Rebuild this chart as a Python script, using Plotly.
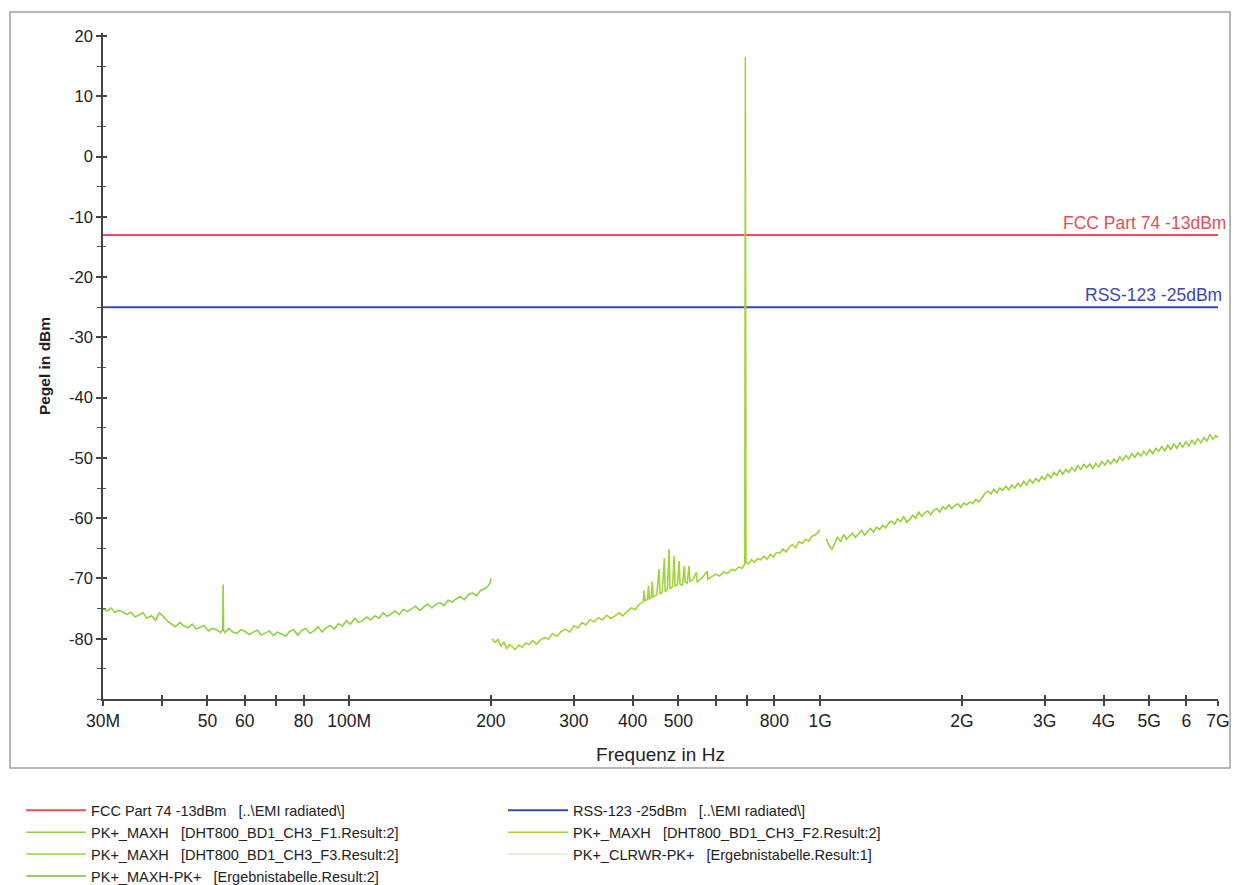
import plotly.graph_objects as go
import math

# ---------------- data (frequency in MHz, level in dBm) ----------------
f1_freq = [30, 30.6, 31.2, 31.8, 32.4, 33.0, 33.7, 34.4, 35.1, 35.8, 36.5, 37.2, 38.0, 38.8,
           39.5, 40.3, 41.1, 42.0, 42.8, 43.7, 44.6, 45.5, 46.4, 47.3, 48.3, 49.2, 50.2, 51.2,
           52.3, 53.3, 53.9, 54.0, 54.1, 54.4, 55.5, 56.6, 57.7, 58.9, 60.1, 61.3, 62.5, 63.8,
           65.0, 66.3, 67.7, 69.0, 70.4, 71.8, 73.3, 74.7, 76.2, 77.8, 79.3, 80.9, 82.5, 84.2,
           85.9, 87.6, 89.3, 91.1, 93.0, 94.8, 96.7, 98.7, 100.6, 102.7, 104.7, 106.8, 109.0,
           111.2, 113.4, 115.7, 118.0, 120.4, 122.8, 125.2, 127.8, 130.3, 132.9, 135.6, 138.3,
           141.1, 143.9, 146.8, 149.8, 152.8, 155.8, 159.0, 162.2, 165.4, 168.7, 172.1, 175.6,
           179.1, 182.7, 186.4, 190.1, 193.9, 197.0, 199.0, 200]
f1_level = [-75.0, -75.4, -74.9, -75.6, -75.3, -75.5, -76.0, -75.6, -76.4, -76.1,
            -75.7, -76.6, -76.2, -76.9, -75.7, -76.3, -77.1, -77.6, -78.0, -77.3,
            -77.9, -78.2, -77.6, -78.4, -78.1, -77.8, -78.7, -78.3, -78.5, -79.0,
            -78.4, -71.0, -78.6, -79.0, -78.3, -78.9, -79.1, -78.5, -78.8, -79.3,
            -78.9, -78.6, -79.4, -79.0, -78.7, -79.5, -78.9, -79.2, -79.6, -78.8,
            -78.5, -79.4, -78.6, -78.3, -79.1, -78.7, -78.0, -78.9, -78.2, -77.8,
            -78.4, -77.5, -77.9, -77.0, -77.6, -76.6, -77.3, -77.0, -76.4, -76.9,
            -76.2, -76.6, -75.7, -76.3, -75.9, -75.4, -76.0, -75.1, -75.5, -75.0,
            -74.6, -75.3, -74.8, -74.2, -74.9, -74.3, -74.0, -74.5, -73.6, -73.9,
            -73.4, -73.0, -73.5, -72.7, -72.4, -72.9, -72.0, -71.7, -71.3, -70.8,
            -70.0]

f2_freq = [201, 204, 207, 210, 213, 216, 219, 222, 225, 229, 233, 237, 241, 245, 250, 255, 260,
           265, 270, 276, 282, 288, 294, 300, 306, 312, 318, 325, 331, 338, 345, 352, 359, 366,
           374, 381, 389, 397, 405, 413,
           418, 421, 423, 425, 430, 432, 434, 438, 440, 442, 450, 455, 457, 462, 467, 469, 474,
           478, 480, 486, 490, 492, 498, 502, 504, 510, 515, 517, 522, 527, 529, 537, 546, 548,
           560, 576, 578, 590, 600, 612, 624, 636, 648, 660, 672, 684, 692, 694, 696, 705, 715,
           726, 737, 748, 760, 772, 784, 796, 808, 821, 834, 847, 860, 874, 888, 902, 916, 931,
           946, 961, 976, 990, 998]
f2_level = [-80.0, -80.6, -80.1, -81.2, -80.6, -81.6, -81.0, -81.3, -81.8, -81.1,
            -81.4, -80.7, -81.0, -80.3, -80.9, -80.2, -79.8, -80.1, -79.2, -79.6,
            -78.8, -78.4, -78.9, -77.8, -78.2, -77.3, -77.7, -76.8, -77.2, -76.5,
            -76.9, -76.1, -76.6, -76.3, -75.7, -76.2, -75.5, -74.9, -75.2, -74.3,
            -74.0, -73.8, -72.0, -73.7, -73.5, -71.2, -73.4, -73.2, -70.5, -73.1,
            -72.7, -68.4, -72.6, -72.3, -66.6, -72.2, -71.8, -65.1, -71.7, -71.4,
            -66.3, -71.3, -71.0, -67.1, -70.9, -71.2, -67.9, -70.6, -70.8, -67.9,
            -70.5, -70.2, -69.0, -70.6, -70.0, -68.8, -70.1, -69.7, -69.3, -69.6,
            -68.9, -69.2, -68.5, -68.7, -68.1, -68.3, -67.6, 16.5, -67.3, -67.6,
            -66.9, -67.3, -66.7, -66.9, -66.3, -66.8, -66.0, -66.4, -65.7, -65.8,
            -65.1, -65.6, -64.8, -64.4, -64.9, -63.9, -64.2, -63.5, -63.8, -63.0,
            -62.8, -62.4, -61.9]

f3_freq = [1030, 1045, 1060, 1075, 1090, 1106, 1122, 1138, 1155, 1172, 1189, 1207, 1225, 1243,
           1261, 1280, 1299, 1318, 1338, 1358, 1378, 1398, 1419, 1440, 1461, 1483, 1505, 1527,
           1550, 1573, 1596, 1620, 1644, 1668, 1693, 1718, 1743, 1769, 1795, 1822, 1849, 1876,
           1904, 1932, 1961, 1990, 2019, 2049, 2079, 2110, 2141, 2173, 2205, 2238, 2271, 2304,
           2338, 2373, 2408, 2443, 2480, 2516, 2554, 2591, 2630, 2669, 2708, 2748, 2789, 2830,
           2872, 2914, 2957, 3001, 3045, 3090, 3136, 3182, 3229, 3277, 3325, 3375, 3425, 3475,
           3527, 3579, 3632, 3685, 3740, 3795, 3851, 3908, 3966, 4025, 4084, 4145, 4206, 4268,
           4331, 4395, 4460, 4526, 4593, 4661, 4730, 4800, 4871, 4943, 5016, 5090, 5165, 5242,
           5319, 5398, 5478, 5559, 5641, 5724, 5809, 5895, 5982, 6071, 6161, 6252, 6344, 6438,
           6533, 6630, 6728, 6827, 6928, 7000]
f3_level = [-63.4, -64.5, -65.2, -64.0, -63.1, -63.9, -62.7, -63.5, -62.9, -62.5, -63.2, -62.6,
            -62.0, -62.8, -62.2, -61.7, -62.3, -61.5, -61.9, -61.2, -61.6, -60.8, -60.5, -61.0,
            -60.1, -60.6, -59.7, -60.7, -60.2, -59.5, -60.0, -59.0, -59.7, -59.1, -58.8, -59.4,
            -58.7, -58.4, -59.0, -58.1, -58.5, -57.8, -58.4, -57.9, -57.6, -58.2, -57.5, -57.8,
            -57.3, -57.6, -56.9, -57.3, -56.7, -55.9, -55.5, -56.0, -55.2, -55.8, -55.0, -55.4,
            -54.7, -55.3, -54.5, -55.0, -54.2, -54.7, -53.9, -54.5, -53.6, -54.2, -53.4, -53.9,
            -53.1, -53.6, -52.7, -53.3, -52.4, -52.9, -52.0, -52.7, -51.9, -52.4, -51.6, -52.2,
            -51.3, -51.9, -51.1, -51.6, -51.0, -51.8, -50.9, -51.5, -50.6, -51.2, -50.4, -51.0,
            -50.2, -50.7, -49.8, -50.4, -49.6, -50.2, -49.3, -49.9, -49.1, -49.7, -48.9, -49.5,
            -48.6, -49.3, -48.4, -48.9, -48.1, -48.8, -47.9, -48.6, -47.7, -48.4, -47.5, -48.2,
            -47.3, -48.0, -47.1, -47.7, -46.8, -47.5, -46.6, -47.2, -46.1, -46.9, -46.3, -46.7]

limit_freq = [30, 7000]
fcc_level = [-13, -13]
rss_level = [-25, -25]

x_tickvals = [30, 40, 50, 60, 70, 80, 100, 200, 300, 400, 500, 600, 700, 800, 1000,
              2000, 3000, 4000, 5000, 6000, 7000]
x_ticktext = ["30M", "", "50", "60", "", "80", "100M", "200", "300", "400", "500", "", "",
              "800", "1G", "2G", "3G", "4G", "5G", "6", "7G"]
y_tickvals = [20, 10, 0, -10, -20, -30, -40, -50, -60, -70, -80]
y_ticktext = ["20", "10", "0", "-10", "-20", "-30", "-40", "-50", "-60", "-70", "-80"]

NB = "\u00a0"
FONT = "Liberation Sans, Arial, sans-serif"
XRANGE = [math.log10(limit_freq[0]), math.log10(limit_freq[-1])]
YRANGE = [-90, 20.5]

fig = go.Figure()

fig.add_trace(go.Scatter(x=limit_freq, y=fcc_level, mode="lines",
                         line=dict(color="#e8505c", width=2),
                         name="FCC Part 74 -13dBm" + NB * 3 + "[..\\EMI radiated\\]"))
fig.add_trace(go.Scatter(x=limit_freq, y=rss_level, mode="lines",
                         line=dict(color="#3a48b0", width=2),
                         name="RSS-123 -25dBm" + NB * 3 + "[..\\EMI radiated\\]"))
fig.add_trace(go.Scatter(x=f1_freq, y=f1_level, mode="lines",
                         line=dict(color="#8fd044", width=1.6),
                         name="PK+_MAXH" + NB * 3 + "[DHT800_BD1_CH3_F1.Result:2]"))
fig.add_trace(go.Scatter(x=f2_freq, y=f2_level, mode="lines",
                         line=dict(color="#a2d43a", width=1.6),
                         name="PK+_MAXH" + NB * 3 + "[DHT800_BD1_CH3_F2.Result:2]"))
fig.add_trace(go.Scatter(x=f3_freq, y=f3_level, mode="lines",
                         line=dict(color="#98d03c", width=1.6),
                         name="PK+_MAXH" + NB * 3 + "[DHT800_BD1_CH3_F3.Result:2]"))
fig.add_trace(go.Scatter(x=[None], y=[None], mode="lines",
                         line=dict(color="#c4e8a8", width=1),
                         name="PK+_CLRWR-PK+" + NB * 3 + "[Ergebnistabelle.Result:1]"))
fig.add_trace(go.Scatter(x=[None], y=[None], mode="lines",
                         line=dict(color="#98d068", width=2),
                         name="PK+_MAXH-PK+" + NB * 3 + "[Ergebnistabelle.Result:2]"))
# empty helper trace so the overlay axes (inner half of crossing ticks) get drawn
fig.add_trace(go.Scatter(x=[None], y=[None], xaxis="x2", yaxis="y2", mode="lines",
                         showlegend=False, hoverinfo="skip"))

fig.add_annotation(x=XRANGE[1], y=-13, xref="x", yref="y", text="FCC Part 74 -13dBm",
                   showarrow=False, xanchor="right", yanchor="bottom", xshift=10, yshift=0,
                   font=dict(color="#e0505a", size=17.5, family=FONT))
fig.add_annotation(x=XRANGE[1], y=-25, xref="x", yref="y", text="RSS-123 -25dBm",
                   showarrow=False, xanchor="right", yanchor="bottom", xshift=6, yshift=0,
                   font=dict(color="#3a48b0", size=17.5, family=FONT))

# outer frame
fig.add_shape(type="rect", xref="paper", yref="paper",
              x0=-0.0834, x1=1.0108, y0=-0.1036, y1=1.0315,
              line=dict(color="#a0a0a0", width=1.5), layer="below")

fig.update_layout(
    width=1234, height=885,
    margin=dict(l=103, r=16, t=33, b=186, autoexpand=False),
    paper_bgcolor="white", plot_bgcolor="white",
    font=dict(family=FONT, size=15, color="#222"),
    showlegend=True,
    legend=dict(orientation="h", x=-0.0735, xanchor="left", y=-0.1433, yanchor="top",
                entrywidth=407, entrywidthmode="pixels", traceorder="normal",
                font=dict(size=14.5, family=FONT, color="#222"), bgcolor="rgba(0,0,0,0)",
                itemwidth=60, tracegroupgap=0),
    xaxis=dict(type="log", range=XRANGE, automargin=False,
               tickvals=x_tickvals, ticktext=x_ticktext, ticks="outside", ticklen=5,
               tickwidth=1.5, tickcolor="#444", showline=True, linecolor="#444", linewidth=1.5,
               showgrid=False, zeroline=False, tickfont=dict(size=17.5, family=FONT),
               title=dict(text="Frequenz in Hz", font=dict(size=19, family=FONT), standoff=18)),
    yaxis=dict(range=YRANGE, tickvals=y_tickvals, ticktext=y_ticktext, automargin=False,
               ticks="outside", ticklen=5, tickwidth=1.5, tickcolor="#444",
               minor=dict(dtick=5, tick0=0, ticks="outside", ticklen=4, tickwidth=1.2,
                          tickcolor="#555"),
               showline=True, linecolor="#444", linewidth=1.5, showgrid=False,
               zeroline=False, tickfont=dict(size=16.5, family=FONT),
               title=dict(text="<b>Pegel in dBm</b>", font=dict(size=15.5, family=FONT),
                          standoff=15)),
    xaxis2=dict(type="log", range=XRANGE, overlaying="x", anchor="y2", side="bottom",
                automargin=False, tickvals=x_tickvals, ticks="inside", ticklen=4,
                tickwidth=1.5, tickcolor="#444", showticklabels=False, showline=False,
                showgrid=False, zeroline=False),
    yaxis2=dict(range=YRANGE, overlaying="y", anchor="x2", side="left", automargin=False,
                tickvals=y_tickvals, ticks="inside", ticklen=4, tickwidth=1.5,
                tickcolor="#444", showticklabels=False, showline=False, showgrid=False,
                zeroline=False,
                minor=dict(dtick=5, tick0=0, ticks="inside", ticklen=3, tickwidth=1.2,
                           tickcolor="#555")),
)

fig.write_html("out.html", config={"displayModeBar": False},
               post_script="document.body.style.margin='0';document.body.style.overflow='hidden';")
